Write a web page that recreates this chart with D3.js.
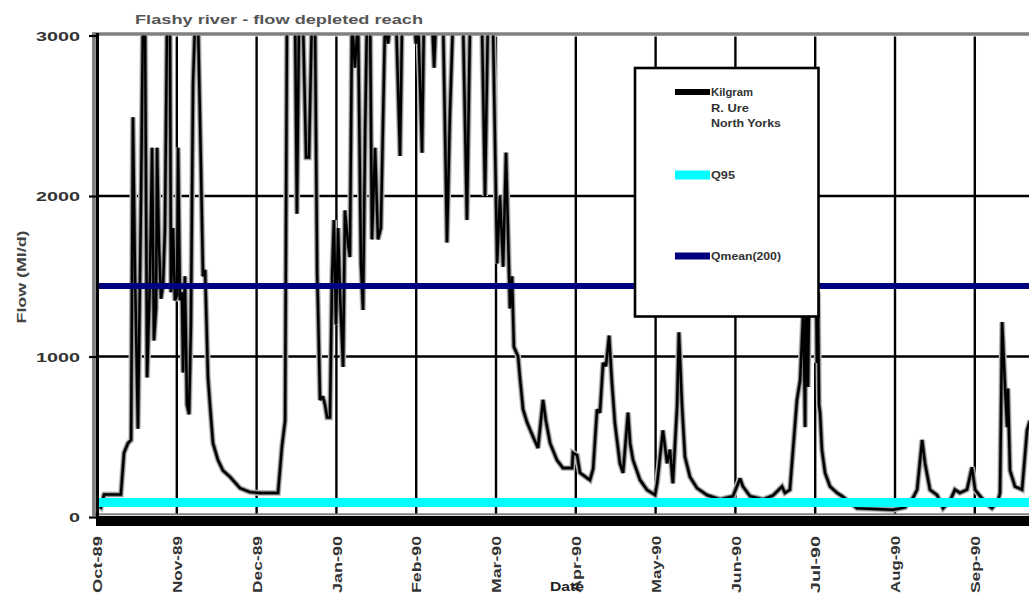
<!DOCTYPE html>
<html>
<head>
<meta charset="utf-8">
<script src="https://cdn.jsdelivr.net/npm/d3@7"></script>
<style>
  html, body { margin: 0; padding: 0; background: #fff; }
  svg { display: block; font-family: "Liberation Sans", Arial, sans-serif; }
</style>
</head>
<body>
<svg id="chart" width="1029" height="594"></svg>
<script>
// ---------- DATA ----------
// day index from 1 Oct 1989
const days = [0,1.5,2.7,5.3,9.1,10.3,11.8,13.0,13.7,14.5,15.6,16.8,17.5,18.3,19.1,20.2,21.0,21.7,22.5,22.9,
  23.6,24.4,25.2,25.9,26.7,27.8,28.2,29.0,29.7,30.5,30.9,31.6,32.4,32.8,33.5,34.3,35.1,35.8,36.6,37.4,
  38.5,39.6,40.4,41.2,42.3,43.1,44.2,46.1,48.0,50.7,54.5,58.3,62.1,65.9,69.0,70.5,71.7,72.4,75.5,76.2,
  77.0,78.5,79.7,80.8,81.9,83.1,83.9,84.2,85.0,86.1,86.9,87.7,88.8,89.6,90.3,91.1,91.9,92.6,93.8,94.5,
  95.7,96.4,97.2,98.3,99.5,100.6,101.4,102.2,102.9,104.1,104.8,106.0,107.1,108.2,109.8,110.9,112.1,114.0,115.5,116.3,
  120.8,121.6,122.4,123.9,124.6,127.7,128.5,129.2,131.9,133.4,134.5,135.7,139.5,141.0,142.2,146.7,147.9,149.0,150.9,152.5,
  153.6,154.8,155.9,157.4,158.2,158.9,160.5,161.2,162.4,163.9,166.2,168.1,170.0,171.1,172.7,175.3,177.6,181.1,181.4,183.0,
  184.1,187.9,189.1,190.6,191.7,192.9,194.0,195.2,196.3,197.4,199.3,200.5,202.4,203.2,204.3,207.0,209.6,212.7,213.5,215.7,
  217.3,218.4,219.5,221.1,221.8,223.0,224.1,226.0,228.7,232.5,237.5,242.4,245.1,246.2,248.9,253.9,257.7,261.1,262.2,264.1,
  265.3,266.8,268.0,269.1,269.5,269.9,270.2,271.0,271.8,272.9,273.7,274.4,274.8,275.2,275.6,276.3,277.5,279.4,282.1,284.0,
  287.0,289.7,296.5,303.4,308.0,311.0,312.6,314.5,315.6,317.5,320.2,322.5,325.1,327.0,328.9,331.6,333.5,334.7,336.6,339.2,
  341.1,343.4,344.2,345.0,346.1,346.9,347.2,348.0,349.9,352.6,354.5,355.6];
// daily flow, Ml/d
const flow = [80,60,140,140,140,400,460,480,2490,1500,550,2000,3100,3100,870,1500,2300,1100,1300,2300,
  1700,1360,1450,1800,3100,3100,1400,1800,1350,1380,2300,1350,1400,900,1500,700,640,1200,2700,3100,
  3100,2200,1500,1540,870,690,460,355,290,250,180,155,150,150,150,440,600,3100,3100,1890,
  3100,3100,2240,2240,3100,3100,1520,1340,730,750,700,620,620,1500,1850,1200,1800,1400,935,1910,
  1700,1620,3100,2800,3100,1580,1290,2400,3100,3100,1730,2300,1730,1800,3100,2950,3100,3100,2250,3100,
  3100,2950,3100,2270,3100,3100,2800,3100,3100,1710,2500,3100,3100,1850,3100,3100,2000,3100,3100,1580,
  2000,1560,2270,1300,1500,1060,1000,870,670,590,500,430,730,600,460,355,305,305,400,385,
  275,230,300,670,650,960,940,1130,830,585,335,275,650,460,355,230,170,137,210,540,
  335,420,210,690,1150,690,375,250,180,137,110,130,240,190,130,110,135,190,150,170,
  420,730,850,1250,1000,560,1400,810,1900,1300,2200,960,1400,700,650,420,275,190,150,130,
  90,55,50,45,60,120,170,480,335,170,137,55,100,170,150,170,310,170,130,80,
  55,100,150,1215,810,560,800,290,190,170,540,600];

const monthLabels = ["Oct-89","Nov-89","Dec-89","Jan-90","Feb-90","Mar-90",
                     "Apr-90","May-90","Jun-90","Jul-90","Aug-90","Sep-90"];
const yTicks = [0, 1000, 2000, 3000];
const q95 = 90;          // Q95 line
const qmean = 1440;      // Qmean(200) line
const legendItems = [
  { lines: ["Kilgram", "R. Ure", "North Yorks"], color: "#000000", width: 6, lens: [42, 38, 70] },
  { lines: ["Q95"], color: "#00FFFF", width: 9, lens: [24] },
  { lines: ["Qmean(200)"], color: "#000080", width: 7, lens: [70] }
];

// ---------- LAYOUT ----------
const svg = d3.select("#chart");
const x0 = 97, xRight = 1029;
const x = d3.scaleLinear().domain([0, 365]).range([x0, x0 + 365 * 2.6236]);
const y = d3.scaleLinear().domain([0, 3000]).range([517, 35.5]);
const monthTicks = d3.range(12).map(i => i * 365 / 12);

// clip
svg.append("defs").append("clipPath").attr("id", "plotclip")
  .append("rect").attr("x", x0).attr("y", y(3000)).attr("width", xRight - x0).attr("height", y(0) - y(3000));

// plot border (grey) top / left / bottom
svg.append("line").attr("x1", 92).attr("x2", xRight).attr("y1", 34).attr("y2", 34)
  .attr("stroke", "#808080").attr("stroke-width", 3.5);
svg.append("line").attr("x1", 93.8).attr("x2", 93.8).attr("y1", 32.5).attr("y2", 516)
  .attr("stroke", "#808080").attr("stroke-width", 3.5);
svg.append("line").attr("x1", 93).attr("x2", xRight).attr("y1", 514.3).attr("y2", 514.3)
  .attr("stroke", "#808080").attr("stroke-width", 2);

// gridlines
const grid = svg.append("g");
grid.selectAll("line.v").data(monthTicks.slice(1)).join("line")
  .attr("x1", d => x(d)).attr("x2", d => x(d))
  .attr("y1", y(3000) + 1).attr("y2", 513.5)
  .attr("stroke", "#000").attr("stroke-width", 2.4);
grid.selectAll("line.h").data([1000, 2000]).join("line")
  .attr("x1", x0).attr("x2", xRight)
  .attr("y1", d => y(d)).attr("y2", d => y(d))
  .attr("stroke", "#000").attr("stroke-width", 2.4);

// flow series
const pts = days.map((d, i) => [d, flow[i]]);
const line = d3.line().x(d => x(d[0])).y(d => y(d[1]));
const series = svg.append("g").attr("clip-path", "url(#plotclip)");
series.append("path").datum(pts).attr("d", line)
  .attr("fill", "none").attr("stroke", "#c8c8c8").attr("stroke-width", 6)
  .attr("stroke-linejoin", "miter").attr("stroke-miterlimit", 2);
series.append("path").datum(pts).attr("d", line)
  .attr("fill", "none").attr("stroke", "#808080").attr("stroke-width", 4.2)
  .attr("stroke-linejoin", "miter").attr("stroke-miterlimit", 2);
series.append("path").datum(pts).attr("d", line)
  .attr("fill", "none").attr("stroke", "#000").attr("stroke-width", 2.5)
  .attr("stroke-linejoin", "miter").attr("stroke-miterlimit", 2);

// threshold lines
svg.append("line").attr("x1", x0).attr("x2", xRight)
  .attr("y1", y(qmean)).attr("y2", y(qmean))
  .attr("stroke", "#000080").attr("stroke-width", 6);
svg.append("line").attr("x1", x0).attr("x2", xRight)
  .attr("y1", y(q95)).attr("y2", y(q95))
  .attr("stroke", "#00FFFF").attr("stroke-width", 9);

// y axis line (black) and bottom black band
svg.append("line").attr("x1", 97.4).attr("x2", 97.4).attr("y1", 33).attr("y2", 517)
  .attr("stroke", "#000").attr("stroke-width", 3.2);
svg.append("line").attr("x1", 96).attr("x2", xRight).attr("y1", 521).attr("y2", 521)
  .attr("stroke", "#000").attr("stroke-width", 10);

// y axis
const yAxis = svg.append("g").attr("transform", `translate(${x0},0)`)
  .call(d3.axisLeft(y).tickValues(yTicks).tickSize(8).tickPadding(9).tickFormat(d3.format("d")));
yAxis.select(".domain").remove();
yAxis.selectAll(".tick line").attr("stroke", "#000").attr("stroke-width", 2.2);
yAxis.selectAll(".tick text")
  .attr("fill", "#333").attr("font-size", 13).attr("font-weight", "bold")
  .attr("font-family", "'Liberation Sans', Arial, sans-serif")
  .attr("dy", "0.36em")
  .attr("textLength", d => String(d).length * 11).attr("lengthAdjust", "spacingAndGlyphs");

// x axis labels
const xAxis = svg.append("g").attr("transform", "translate(0,532)")
  .call(d3.axisBottom(x).tickValues(monthTicks).tickSize(0).tickPadding(0)
        .tickFormat((d, i) => monthLabels[i]));
xAxis.select(".domain").remove();
xAxis.selectAll(".tick text")
  .attr("fill", "#333").attr("font-size", 13).attr("font-weight", "bold")
  .attr("font-family", "'Liberation Sans', Arial, sans-serif")
  .attr("text-anchor", "end")
  .attr("transform", "rotate(-90)")
  .attr("x", -4).attr("y", 0).attr("dy", "0.36em")
  .attr("textLength", 57).attr("lengthAdjust", "spacingAndGlyphs");

// titles
svg.append("text").attr("x", 279).attr("y", 24).attr("text-anchor", "middle")
  .attr("font-size", 13).attr("font-weight", "bold").attr("fill", "#555")
  .attr("textLength", 288).attr("lengthAdjust", "spacingAndGlyphs")
  .text("Flashy river - flow depleted reach");
svg.append("text").attr("transform", "translate(26,277) rotate(-90)")
  .attr("text-anchor", "middle").attr("font-size", 13).attr("font-weight", "bold").attr("fill", "#444")
  .attr("textLength", 93).attr("lengthAdjust", "spacingAndGlyphs")
  .text("Flow (Ml/d)");
svg.append("text").attr("x", 567).attr("y", 591).attr("text-anchor", "middle")
  .attr("font-size", 13).attr("font-weight", "bold").attr("fill", "#222")
  .attr("textLength", 34).attr("lengthAdjust", "spacingAndGlyphs")
  .text("Date");

// legend
const lg = svg.append("g");
lg.append("rect").attr("x", 635).attr("y", 68).attr("width", 183.5).attr("height", 248.5)
  .attr("fill", "#fff").attr("stroke", "#000").attr("stroke-width", 2.6);
const rowY = [92, 175, 256];
legendItems.forEach((it, i) => {
  lg.append("line").attr("x1", 675).attr("x2", 710).attr("y1", rowY[i]).attr("y2", rowY[i])
    .attr("stroke", it.color).attr("stroke-width", it.width);
  it.lines.forEach((t, j) => {
    lg.append("text").attr("x", 711).attr("y", rowY[i] + 4 + j * 15.5)
      .attr("font-size", 10).attr("font-weight", "bold").attr("fill", "#333")
      .attr("textLength", it.lens[j]).attr("lengthAdjust", "spacingAndGlyphs")
      .text(t);
  });
});
</script>
</body>
</html>
